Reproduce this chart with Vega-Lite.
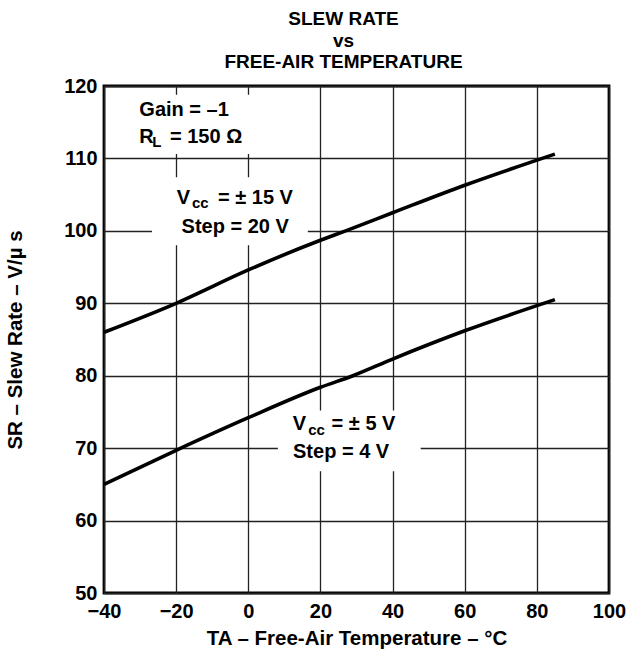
{
  "$schema": "https://vega.github.io/schema/vega-lite/v6.json",
  "width": 505,
  "height": 507,
  "autosize": {"type": "none"},
  "padding": {"left": 104, "top": 86, "right": 19, "bottom": 61},
  "background": "white",
  "config": {
    "font": "Liberation Sans",
    "view": {"stroke": "black", "strokeWidth": 2.8},
    "axis": {
      "labelFont": "Liberation Sans",
      "labelFontSize": 20,
      "labelFontWeight": "bold",
      "labelColor": "black",
      "titleFont": "Liberation Sans",
      "titleFontSize": 20.5,
      "titleFontWeight": "bold",
      "titleColor": "black",
      "ticks": false,
      "domain": false,
      "grid": true,
      "gridColor": "#222222",
      "gridWidth": 1.3,
      "labelFlush": false,
      "labelOverlap": false,
      "labelBound": false
    }
  },
  "title": {
    "text": ["SLEW RATE", "vs", "FREE-AIR TEMPERATURE"],
    "font": "Liberation Sans",
    "fontSize": 19,
    "fontWeight": "bold",
    "lineHeight": 21.5,
    "color": "black",
    "anchor": "middle",
    "offset": 4,
    "dx": -13
  },
  "datasets": {
    "curves": [
      {"series": "Vcc = ±15 V", "temp": -40, "sr": 86.0},
      {"series": "Vcc = ±15 V", "temp": -20, "sr": 90.0},
      {"series": "Vcc = ±15 V", "temp": 0, "sr": 94.6},
      {"series": "Vcc = ±15 V", "temp": 20, "sr": 98.7},
      {"series": "Vcc = ±15 V", "temp": 27, "sr": 100.0},
      {"series": "Vcc = ±15 V", "temp": 40, "sr": 102.5},
      {"series": "Vcc = ±15 V", "temp": 60, "sr": 106.3},
      {"series": "Vcc = ±15 V", "temp": 85, "sr": 110.6},
      {"series": "Vcc = ±5 V", "temp": -40, "sr": 65.0},
      {"series": "Vcc = ±5 V", "temp": -20, "sr": 69.7},
      {"series": "Vcc = ±5 V", "temp": 0, "sr": 74.2},
      {"series": "Vcc = ±5 V", "temp": 20, "sr": 78.4},
      {"series": "Vcc = ±5 V", "temp": 29, "sr": 80.0},
      {"series": "Vcc = ±5 V", "temp": 40, "sr": 82.3},
      {"series": "Vcc = ±5 V", "temp": 60, "sr": 86.2},
      {"series": "Vcc = ±5 V", "temp": 85, "sr": 90.5}
    ],
    "boxes": [
      {"x1": -35, "x2": 5, "y1": 110.6, "y2": 118.8},
      {"x1": -26.7, "x2": 16.5, "y1": 98.0, "y2": 107.4},
      {"x1": 8.2, "x2": 47.8, "y1": 66.8, "y2": 75.2}
    ],
    "mainText": [
      {"x": -30.2, "y": 116.7, "t": "Gain = –1"},
      {"x": -30.2, "y": 113.0, "t": "R"},
      {"x": -21.7, "y": 113.0, "t": "= 150 Ω"},
      {"x": -19.8, "y": 104.5, "t": "V"},
      {"x": -8.4, "y": 104.5, "t": "= ± 15 V"},
      {"x": -18.5, "y": 100.55, "t": "Step = 20 V"},
      {"x": 12.3, "y": 73.3, "t": "V"},
      {"x": 23.1, "y": 73.3, "t": "= ± 5 V"},
      {"x": 12.4, "y": 69.5, "t": "Step = 4 V"}
    ],
    "subText": [
      {"x": -26.6, "y": 112.2, "t": "L"},
      {"x": -15.6, "y": 103.8, "t": "cc"},
      {"x": 16.6, "y": 72.5, "t": "cc"}
    ]
  },
  "layer": [
    {
      "data": {"name": "boxes"},
      "mark": {"type": "rect", "fill": "white", "strokeWidth": 0},
      "encoding": {
        "x": {
          "field": "x1", "type": "quantitative",
          "scale": {"domain": [-40, 100], "nice": false, "zero": false},
          "axis": {
            "values": [-40, -20, 0, 20, 40, 60, 80, 100],
            "labelPadding": 8,
            "title": "TA – Free-Air Temperature – °C",
            "titlePadding": 7
          }
        },
        "x2": {"field": "x2"},
        "y": {
          "field": "y1", "type": "quantitative",
          "scale": {"domain": [50, 120], "nice": false, "zero": false},
          "axis": {
            "values": [50, 60, 70, 80, 90, 100, 110, 120],
            "labelPadding": 7,
            "title": "SR – Slew Rate – V/µ s",
            "titlePadding": 38
          }
        },
        "y2": {"field": "y2"}
      }
    },
    {
      "data": {"name": "curves"},
      "mark": {"type": "line", "color": "black", "strokeWidth": 3.6, "interpolate": "monotone"},
      "encoding": {
        "x": {"field": "temp", "type": "quantitative"},
        "y": {"field": "sr", "type": "quantitative"},
        "detail": {"field": "series"}
      }
    },
    {
      "data": {"name": "mainText"},
      "mark": {"type": "text", "align": "left", "baseline": "middle", "font": "Liberation Sans", "fontSize": 20, "fontWeight": "bold", "color": "black"},
      "encoding": {
        "x": {"field": "x", "type": "quantitative"},
        "y": {"field": "y", "type": "quantitative"},
        "text": {"field": "t"}
      }
    },
    {
      "data": {"name": "subText"},
      "mark": {"type": "text", "align": "left", "baseline": "middle", "font": "Liberation Sans", "fontSize": 15, "fontWeight": "bold", "color": "black"},
      "encoding": {
        "x": {"field": "x", "type": "quantitative"},
        "y": {"field": "y", "type": "quantitative"},
        "text": {"field": "t"}
      }
    }
  ]
}
